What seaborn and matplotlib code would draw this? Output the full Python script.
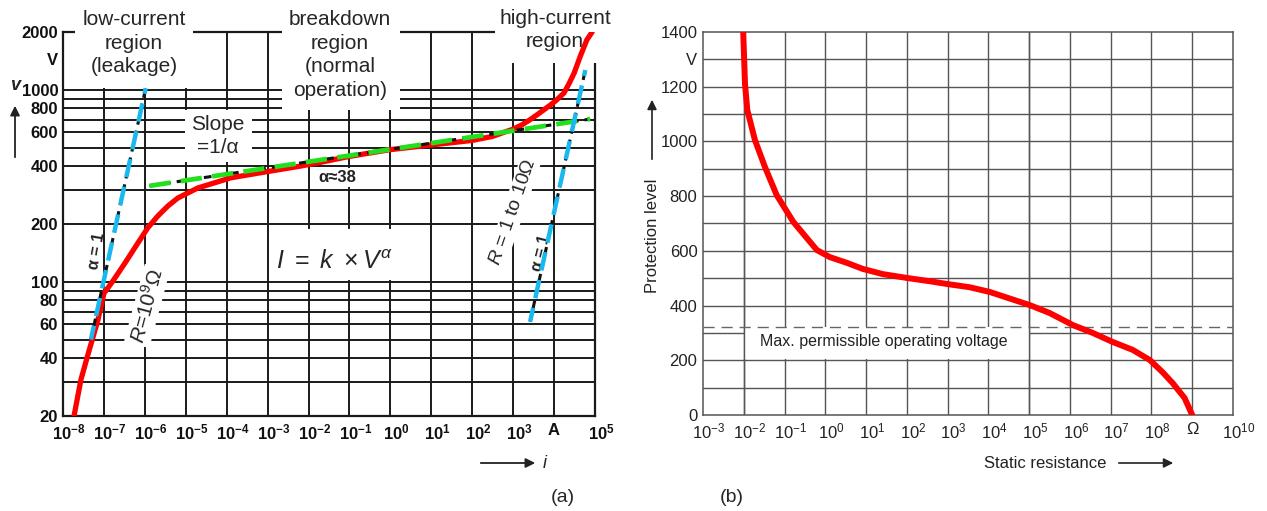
import numpy as np
import pandas as pd
import seaborn as sns
import matplotlib
matplotlib.use("Agg")
import matplotlib.pyplot as plt
import matplotlib.transforms as mtransforms
from matplotlib.patches import Rectangle, FancyArrowPatch
from matplotlib import font_manager as fm

# ---------------- data ----------------
# panel (a): varistor V-I characteristic
current_a = [1.86e-8, 2.75e-8, 4.1e-8, 7.1e-8, 1.0e-7, 1.66e-7, 3.25e-7, 6.74e-7, 1.18e-6,
             2.07e-6, 3.64e-6, 6.38e-6, 1.96e-5, 1.26e-4, 8.5e-4, 5.4e-3, 1.66e-2, 1e-1,
             1e0, 1e1, 1e2, 3.16e2, 6.0e2, 1e3, 1.6e3, 2.57e3, 3.98e3, 7.94e3, 1.12e4,
             1.74e4, 2.34e4, 3.1e4, 4.3e4, 6.3e4, 8.5e4]
voltage_a = [20, 31, 42, 63, 87, 101, 125, 159, 191,
             220, 248, 273, 308, 348, 373, 398, 416, 450,
             488, 516, 545, 572, 601, 624, 655, 698, 745, 830, 880,
             962, 1080, 1224, 1482, 1817, 2000]
slope_i = [1.3e-6, 7.6e4]
slope_v = [316, 704]
leak_i = [4.8e-8, 1.05e-6]
leak_v = [50, 1020]
high_i = [2.6e3, 5.8e4]
high_v = [62, 1268]
xticks_a = [1e-8, 1e-7, 1e-6, 1e-5, 1e-4, 1e-3, 1e-2, 1e-1, 1e0, 1e1, 1e2, 1e3, 1e4, 1e5]
xlabels_a = [r"$\mathbf{10^{-8}}$", r"$\mathbf{10^{-7}}$", r"$\mathbf{10^{-6}}$", r"$\mathbf{10^{-5}}$",
             r"$\mathbf{10^{-4}}$", r"$\mathbf{10^{-3}}$", r"$\mathbf{10^{-2}}$", r"$\mathbf{10^{-1}}$",
             r"$\mathbf{10^{0}}$", r"$\mathbf{10^{1}}$", r"$\mathbf{10^{2}}$", r"$\mathbf{10^{3}}$",
             "A", r"$\mathbf{10^{5}}$"]
yticks_a = [20, 40, 60, 80, 100, 200, 400, 600, 800, 1000, 1450, 2000]
ylabels_a = ["20", "40", "60", "80", "100", "200", "400", "600", "800", "1000", "V", "2000"]
ygrid_a = [30, 40, 50, 60, 70, 80, 90, 100, 200, 300, 400, 500, 600, 700, 800, 900, 1000]

# panel (b): protection level vs static resistance
resistance_b = [9.7e-3, 1.07e-2, 1.22e-2, 1.88e-2, 3.3e-2, 6.4e-2, 0.164, 0.62, 1.3, 3.4,
                8.3, 25.7, 1e2, 3.63e2, 9.55e2, 3.47e3, 1.07e4, 1.02e5, 3.16e5, 1.17e6,
                3.63e6, 1.12e7, 3.47e7, 9.1e7, 1.86e8, 3.3e8, 6.5e8, 1e9]
level_b = [1400, 1212, 1115, 1005, 907, 804, 706, 603, 577, 556,
           534, 515, 501, 489, 479, 467, 450, 402, 373, 329,
           300, 267, 238, 201, 157, 117, 62, 0]
max_operating_v = 320
xticks_b = [1e-3, 1e-2, 1e-1, 1e0, 1e1, 1e2, 1e3, 1e4, 1e5, 1e6, 1e7, 1e8, 1e9, 1e10]
xlabels_b = [r"$10^{-3}$", r"$10^{-2}$", r"$10^{-1}$", r"$10^{0}$", r"$10^{1}$", r"$10^{2}$",
             r"$10^{3}$", r"$10^{4}$", r"$10^{5}$", r"$10^{6}$", r"$10^{7}$", r"$10^{8}$",
             "Ω", r"$10^{10}$"]
yticks_b = [0, 200, 400, 600, 800, 1000, 1200, 1300, 1400]
ylabels_b = ["0", "200", "400", "600", "800", "1000", "1200", "V", "1400"]

# ---------------- style ----------------
sns.set_theme(style="white")
plt.rcParams["font.family"] = ["Liberation Sans", "DejaVu Sans"]
plt.rcParams["mathtext.fontset"] = "custom"
plt.rcParams["mathtext.rm"] = "Liberation Sans"
plt.rcParams["mathtext.it"] = "Liberation Sans:italic"
plt.rcParams["mathtext.bf"] = "Liberation Sans:bold"

names = {f.name for f in fm.fontManager.ttflist}
COND = "Liberation Sans Narrow" if "Liberation Sans Narrow" in names else "Liberation Sans"

W, H = 1267, 511
fig = plt.figure(figsize=(W / 100, H / 100), dpi=100)
fig.patch.set_facecolor("white")


def fx(x):
    return x / W


def fy(y):
    return 1 - y / H


GRID_A = "#1a1a1a"
GRID_B = "#555555"
label_shift = mtransforms.ScaledTranslation(0.06, 0, fig.dpi_scale_trans)

# ================= panel (a) =================
axA = fig.add_axes([fx(63), fy(416), (595 - 63) / W, (416 - 32) / H])
axA.set_xscale("log")
axA.set_yscale("log")
axA.set_xlim(1e-8, 1e5)
axA.set_ylim(20, 2000)
for x in xticks_a[1:-1]:
    axA.axvline(x, color=GRID_A, lw=1.4, zorder=1)
for y in ygrid_a:
    axA.axhline(y, color=GRID_A, lw=1.4, zorder=1)
for s in axA.spines.values():
    s.set_color(GRID_A)
    s.set_linewidth(1.6)
    s.set_zorder(2)

# curves
sns.lineplot(x=current_a, y=voltage_a, ax=axA, color="#ff0000", linewidth=3.8,
             sort=False, estimator=None, zorder=6)
sns.lineplot(x=slope_i, y=slope_v, ax=axA, color="#111111", linewidth=2.2,
             linestyle=(0, (2.5, 2)), sort=False, estimator=None, zorder=7)
sns.lineplot(x=slope_i, y=slope_v, ax=axA, color="#22e01e", linewidth=3.4,
             linestyle=(0, (4.5, 2.2)), sort=False, estimator=None, zorder=8)
for xs, ys in ((leak_i, leak_v), (high_i, high_v)):
    sns.lineplot(x=xs, y=ys, ax=axA, color="#111111", linewidth=2.2,
                 linestyle=(0, (2.5, 2)), sort=False, estimator=None, zorder=7)
    sns.lineplot(x=xs, y=ys, ax=axA, color="#19b9ef", linewidth=3.2,
                 linestyle=(1, (4.2, 2.2)), sort=False, estimator=None, zorder=8)

axA.set_xticks(xticks_a)
axA.set_xticklabels(xlabels_a)
axA.set_yticks(yticks_a)
axA.set_yticklabels(ylabels_a, fontweight="bold")
axA.minorticks_off()
axA.tick_params(axis="both", length=0, labelsize=12, colors="#111111")
axA.tick_params(axis="y", pad=3.5)
axA.tick_params(axis="x", pad=5)
for t in axA.get_xticklabels():
    t.set_fontweight("bold")
    if "10" in t.get_text():
        t.set_transform(t.get_transform() + label_shift)
axA.set_xlabel("")
axA.set_ylabel("")

# white boxes covering the grid (figure pixel coords)
for (x0, y0, x1, y1) in [(75, 0, 193, 88), (282, 0, 400, 110), (495, 0, 622, 63),
                         (185, 110, 252, 162), (272, 229, 415, 280), (313, 168, 362, 187)]:
    axA.add_patch(Rectangle((fx(x0), fy(y1)), (x1 - x0) / W, (y1 - y0) / H,
                            transform=fig.transFigure, facecolor="white",
                            edgecolor="none", clip_on=False, zorder=3))


def atext(ax, x, y, s, **kw):
    kw.setdefault("zorder", 4)
    kw.setdefault("ha", "center")
    kw.setdefault("va", "center")
    return ax.text(fx(x), fy(y), s, transform=fig.transFigure, clip_on=False, **kw)


atext(axA, 134, 43, "low-current\nregion\n(leakage)", fontsize=15, linespacing=1.33)
atext(axA, 340, 55, "breakdown\nregion\n(normal\noperation)", fontsize=15, linespacing=1.33)
atext(axA, 555, 30, "high-current\nregion", fontsize=15, linespacing=1.33)
atext(axA, 218, 136, "Slope\n=1/α", fontsize=15, linespacing=1.33)
atext(axA, 337, 177, "α≈38", fontsize=12, family=COND, fontweight="bold", color="#222222")
atext(axA, 334, 262, r"$I\ =\ k\ \times V^{\alpha}$", fontsize=18)
atext(axA, 147, 306, r"$R$=10$^9$Ω", fontsize=15, rotation=75,
      bbox=dict(facecolor="white", edgecolor="none", pad=1.5))
atext(axA, 513, 212, r"$R$ = 1 to 10Ω", fontsize=14, rotation=71,
      bbox=dict(facecolor="white", edgecolor="none", pad=1.5))
atext(axA, 97, 251, "α = 1", fontsize=11.5, rotation=80, family=COND, fontweight="bold",
      color="#222222")
atext(axA, 541, 253, "α = 1", fontsize=11.5, rotation=76, family=COND, fontweight="bold",
      color="#222222")

# axis labels of panel (a)
fig.text(fx(15), fy(86), "v", fontsize=13, style="italic", fontweight="bold",
         ha="center", va="center", color="#222222")
fig.add_artist(FancyArrowPatch((fx(15), fy(160)), (fx(15), fy(103)),
               transform=fig.transFigure, arrowstyle="-|>", mutation_scale=14,
               color="#222222", lw=1.3))
fig.add_artist(FancyArrowPatch((fx(478), fy(463)), (fx(538), fy(463)),
               transform=fig.transFigure, arrowstyle="-|>", mutation_scale=14,
               color="#222222", lw=1.3))
fig.text(fx(545), fy(463), "i", fontsize=13, style="italic", ha="center", va="center",
         color="#222222")
fig.text(fx(563), fy(497), "(a)", fontsize=14, ha="center", va="center")

# ================= panel (b) =================
axB = fig.add_axes([fx(703), fy(415), (1233 - 703) / W, (415 - 32) / H])
axB.set_xscale("log")
axB.set_xlim(1e-3, 1e10)
axB.set_ylim(0, 1400)
for x in xticks_b[1:-1]:
    axB.axvline(x, color=GRID_B, lw=1.0, zorder=1)
for y in range(100, 1400, 100):
    axB.axhline(y, color=GRID_B, lw=1.0, zorder=1)
for s in axB.spines.values():
    s.set_color(GRID_B)
    s.set_linewidth(1.1)
# white area behind the annotation
axB.add_patch(Rectangle((1e-2, 205), 1e5 - 1e-2, max_operating_v - 205,
                        facecolor="white", edgecolor="none", zorder=2))
axB.axvline(1e-2, color=GRID_B, lw=1.0, zorder=2.5)
axB.axvline(1e5, color=GRID_B, lw=1.0, zorder=2.5)
axB.axhline(max_operating_v, color="#666666", lw=1.0, linestyle=(0, (8, 5)), zorder=3)
axB.text(10 ** -1.6, 267, "Max. permissible operating voltage", fontsize=11.5,
         ha="left", va="center", color="#222222", zorder=4)

sns.lineplot(x=resistance_b, y=level_b, ax=axB, color="#ff0000", linewidth=4.3,
             sort=False, estimator=None, zorder=6)

axB.set_xticks(xticks_b)
axB.set_xticklabels(xlabels_b)
axB.set_yticks(yticks_b)
axB.set_yticklabels(ylabels_b)
axB.minorticks_off()
axB.tick_params(axis="both", length=0, labelsize=12, colors="#222222")
axB.tick_params(axis="y", pad=4)
axB.tick_params(axis="x", pad=5)
for t in axB.get_xticklabels():
    if "10" in t.get_text():
        t.set_transform(t.get_transform() + label_shift)
axB.set_xlabel("")
axB.set_ylabel("")

fig.text(fx(1045), fy(463), "Static resistance", fontsize=12, ha="center", va="center",
         color="#222222")
fig.add_artist(FancyArrowPatch((fx(1116), fy(463)), (fx(1176), fy(463)),
               transform=fig.transFigure, arrowstyle="-|>", mutation_scale=14,
               color="#222222", lw=1.2))
fig.text(fx(652), fy(236), "Protection level", fontsize=12, rotation=90, ha="center",
         va="center", color="#222222")
fig.add_artist(FancyArrowPatch((fx(652), fy(162)), (fx(652), fy(97)),
               transform=fig.transFigure, arrowstyle="-|>", mutation_scale=14,
               color="#222222", lw=1.2))
fig.text(fx(732), fy(497), "(b)", fontsize=14, ha="center", va="center")

fig.savefig("out.png", dpi=100, facecolor="white")
